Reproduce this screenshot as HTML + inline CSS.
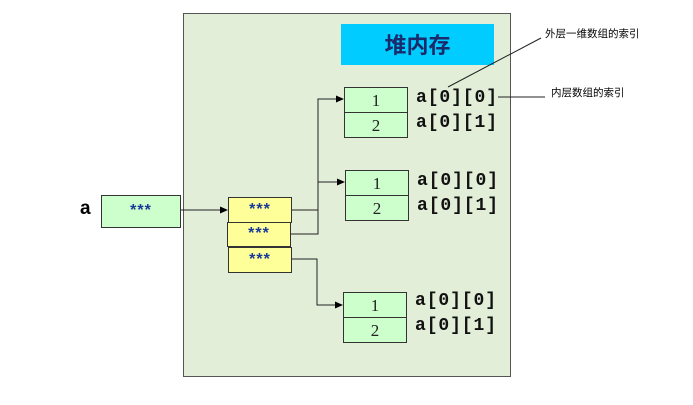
<!DOCTYPE html>
<html><head><meta charset="utf-8"><style>
body{margin:0;width:693px;height:405px;background:#fff;position:relative;overflow:hidden;font-family:"Liberation Sans","Noto Sans CJK SC",sans-serif}
.a{position:absolute;box-sizing:border-box}
.g{background:#ccffcc;border:1px solid #333;text-align:center;font-family:"Liberation Serif",serif;font-size:17px;color:#222}
.y{background:#ffff99;border:1px solid #333;text-align:center;color:#1a3a9a;font-weight:bold;font-size:16px;letter-spacing:1px}
.l{font-family:"Liberation Mono",monospace;font-weight:bold;font-size:18px;color:#111;letter-spacing:0.9px;line-height:22px}
.c{font-size:10.5px;color:#000}
</style></head><body>
<div class="a" style="left:183px;top:13px;width:328px;height:364px;background:#e2eed8;border:1.5px solid #555"></div>
<div class="a" style="left:341px;top:24px;width:153px;height:41px;background:#00ccff;color:#1a2a6a;font-weight:bold;font-size:22px;text-align:center;line-height:41px;font-family:'Noto Sans CJK SC',sans-serif">堆内存</div>

<div class="a" style="left:80px;top:198px;font-weight:bold;font-size:19px">a</div>
<div class="a y" style="left:101px;top:195px;width:80px;height:33px;background:#ccffcc;line-height:30px">***</div>

<div class="a y" style="left:228px;top:197px;width:64px;height:26px;line-height:23px">***</div>
<div class="a y" style="left:227px;top:222px;width:64px;height:25px;line-height:22px">***</div>
<div class="a y" style="left:228px;top:247px;width:64px;height:26px;line-height:23px">***</div>

<div class="a g" style="left:344px;top:87px;width:64px;height:26px;line-height:25px">1</div>
<div class="a g" style="left:344px;top:112px;width:64px;height:26px;line-height:25px">2</div>
<div class="a g" style="left:345px;top:170px;width:64px;height:26px;line-height:25px">1</div>
<div class="a g" style="left:345px;top:195px;width:64px;height:26px;line-height:25px">2</div>
<div class="a g" style="left:343px;top:292px;width:64px;height:26px;line-height:25px">1</div>
<div class="a g" style="left:343px;top:317px;width:64px;height:26px;line-height:25px">2</div>

<div class="a l" style="left:416px;top:87px">a[0][0]</div>
<div class="a l" style="left:416px;top:112px">a[0][1]</div>
<div class="a l" style="left:417px;top:170px">a[0][0]</div>
<div class="a l" style="left:417px;top:195px">a[0][1]</div>
<div class="a l" style="left:415px;top:290px">a[0][0]</div>
<div class="a l" style="left:415px;top:315px">a[0][1]</div>

<div class="a c" style="left:545px;top:26px">外层一维数组的索引</div>
<div class="a c" style="left:551px;top:85px">内层数组的索引</div>

<svg class="a" style="left:0;top:0" width="693" height="405">
<defs><marker id="m" markerWidth="8" markerHeight="8" refX="7" refY="4" orient="auto" markerUnits="userSpaceOnUse"><path d="M0,0.5 L8,4 L0,7.5z" fill="#000"/></marker></defs>
<g stroke="#222" stroke-width="1" fill="none">
<path d="M181,210 H227" marker-end="url(#m)"/>
<path d="M292,210 H318"/>
<path d="M291,234 H318 V99 H343" marker-end="url(#m)"/>
<path d="M318,182 H344" marker-end="url(#m)"/>
<path d="M292,259 H317 V305 H342" marker-end="url(#m)"/>
<path d="M448,87 L541,38"/>
<path d="M498,97 H545"/>
</g>
</svg>
</body></html>
